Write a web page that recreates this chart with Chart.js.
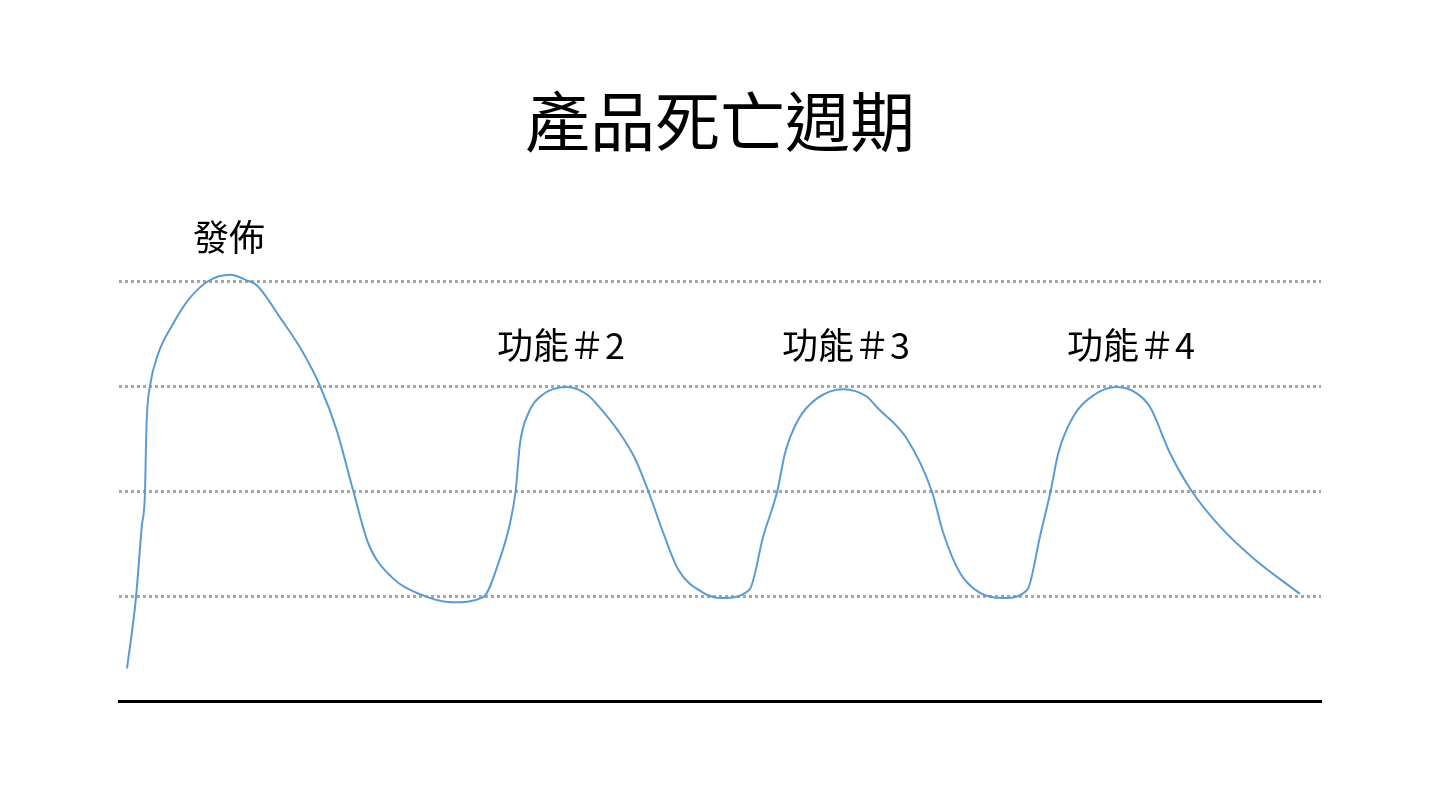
<!DOCTYPE html>
<html lang="zh-Hant">
<head>
    <meta charset="UTF-8">
    <title>產品死亡週期</title>
    <script src="https://cdn.jsdelivr.net/npm/chart.js"></script>
    <style>
        body {
            margin: 0;
            background: #ffffff;
            font-family: "Noto Sans CJK TC", "Noto Sans", sans-serif;
        }
        .wrap {
            position: relative;
            width: 1440px;
            height: 806px;
        }
        h1 {
            position: absolute;
            left: 0;
            top: 86px;
            width: 1440px;
            margin: 0;
            text-align: center;
            font-size: 65px;
            line-height: 65px;
            font-weight: 400;
            color: #000;
        }
        canvas {
            position: absolute;
            left: 0;
            top: 0;
        }
    </style>
</head>
<body>
    <div class="wrap">
        <canvas id="lifeChart" width="1440" height="806"></canvas>
        <h1>產品死亡週期</h1>
    </div>

    <script>
        // curve (x = time, y = level)
        const timeX = [
            0.8, 1.67, 2.27, 2.6, 2.7, 2.8, 3.09, 3.92, 5.26, 6.92, 8.92, 11.08, 12.91, 13.75,
            16.24, 18.24, 20.07, 21.73, 23.39, 24.89, 27.22, 30.22, 33.21, 36.37,
            37.87, 39.03, 39.6, 40.03, 40.86, 42.2, 44.7, 46.85, 47.85, 49.85, 51.51,
            52.84, 54.34, 55.84, 58.17, 60.17, 62.94,
            64.32, 65.72, 66.49, 67.82, 69.65, 72.31, 74.65, 75.64, 78.64, 81.14,
            82.29, 83.96, 85.96, 88.28, 90.68,
            91.95, 93.01, 93.77, 95.27, 97.27, 99.6, 101.6, 102.93, 104.93, 107.09,
            109.93, 113.24, 117.9
        ];
        const levelY = [
            0.31, 0.96, 1.66, 2.0, 2.46, 2.74, 3.0, 3.31, 3.57, 3.82, 4.0, 4.06, 4.0, 3.96,
            3.63, 3.34, 3.0, 2.58, 2.0, 1.5, 1.18, 1.01, 0.94, 0.99,
            1.31, 1.69, 2.0, 2.45, 2.74, 2.91, 2.99, 2.91, 2.81, 2.57, 2.31,
            2.0, 1.6, 1.25, 1.04, 0.98, 1.06,
            1.57, 2.0, 2.36, 2.68, 2.88, 2.97, 2.9, 2.8, 2.5, 2.0,
            1.6, 1.22, 1.03, 0.98, 1.06,
            1.57, 2.0, 2.36, 2.71, 2.91, 2.99, 2.93, 2.8, 2.36, 2.0,
            1.66, 1.36, 1.02
        ];

        // annotations above each peak
        const noteTexts = ['發佈', '功能＃2', '功能＃3', '功能＃4'];
        const noteX = [10.98, 44.13, 72.58, 101.03];
        const noteY = [4.42, 3.39, 3.39, 3.39];

        const points = timeX.map((x, i) => ({ x: x, y: levelY[i] }));

        const notesPlugin = {
            id: 'notes',
            afterDatasetsDraw(chart) {
                const ctx = chart.ctx;
                const xs = chart.scales.x;
                const ys = chart.scales.y;
                ctx.save();
                ctx.fillStyle = '#000';
                ctx.font = '400 36px "Noto Sans CJK TC", sans-serif';
                ctx.textAlign = 'center';
                ctx.textBaseline = 'middle';
                noteTexts.forEach((t, i) => {
                    ctx.fillText(t, xs.getPixelForValue(noteX[i]), ys.getPixelForValue(noteY[i]));
                });
                ctx.restore();
            }
        };

        new Chart(document.getElementById('lifeChart'), {
            type: 'line',
            data: {
                datasets: [{
                    data: points,
                    borderColor: '#5B9BD5',
                    borderWidth: 2,
                    pointRadius: 0,
                    cubicInterpolationMode: 'monotone',
                    fill: false
                }]
            },
            options: {
                responsive: false,
                animation: false,
                layout: {
                    padding: { left: 119, right: 119, top: 176, bottom: 105 }
                },
                plugins: {
                    legend: { display: false },
                    tooltip: { enabled: false }
                },
                scales: {
                    x: {
                        type: 'linear',
                        min: 0,
                        max: 120,
                        ticks: { display: false },
                        grid: { display: false, drawTicks: false },
                        border: { display: true, color: '#000', width: 3 },
                        afterFit(scale) { scale.height = 0; }
                    },
                    y: {
                        min: 0,
                        max: 5,
                        ticks: { display: false, stepSize: 1 },
                        grid: {
                            drawTicks: false,
                            lineWidth: 3,
                            color: c => (c.tick && c.tick.value >= 1 && c.tick.value <= 4) ? '#a6a6a6' : 'rgba(0,0,0,0)'
                        },
                        border: { display: false, dash: [3, 3] },
                        afterFit(scale) { scale.width = 0; }
                    }
                }
            },
            plugins: [notesPlugin]
        });
    </script>
</body>
</html>
